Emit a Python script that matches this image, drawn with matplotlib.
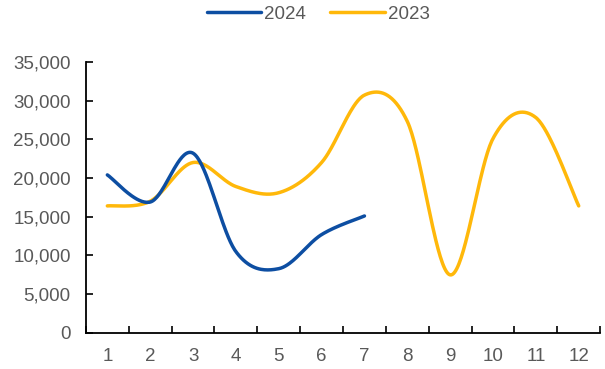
import numpy as np
import matplotlib.pyplot as plt

months = [1, 2, 3, 4, 5, 6, 7, 8, 9, 10, 11, 12]
sales_2024 = [20400, 16900, 23200, 10500, 8300, 12700, 15100]
sales_2023 = [16400, 17000, 22000, 18900, 18100, 22000, 30700, 27300, 7500, 25100, 27800, 16400]

BLUE = '#0D4EA2'
GOLD = '#FFB80A'
GREY = '#595959'

plt.rcParams['font.family'] = ['Liberation Sans', 'DejaVu Sans']


def smooth(xs, ys, sx, sy, n=40):
    """Catmull-Rom style smoothing (control points at 1/6), done in screen-like units."""
    p = np.column_stack([np.asarray(xs, float) * sx, np.asarray(ys, float) * sy])
    p = np.vstack([p[0], p, p[-1]])
    out = []
    t = np.linspace(0, 1, n)[:, None]
    for i in range(1, len(p) - 2):
        p0, p3 = p[i], p[i + 1]
        c1 = p0 + (p[i + 1] - p[i - 1]) / 6.0
        c2 = p3 - (p[i + 2] - p[i]) / 6.0
        seg = ((1 - t) ** 3) * p0 + 3 * ((1 - t) ** 2) * t * c1 + 3 * (1 - t) * t ** 2 * c2 + t ** 3 * p3
        out.append(seg if i == 1 else seg[1:])
    out = np.vstack(out)
    return out[:, 0] / sx, out[:, 1] / sy


fig = plt.figure(figsize=(6.05, 3.69), dpi=100)
ax = fig.add_axes([0.142, 0.0976, 0.850, 0.735])

# pixel scale of the axes, used so the smoothing behaves like it does on screen
sx = 42.8
sy = 271.0 / 35000

x24, y24 = smooth(months[:len(sales_2024)], sales_2024, sx, sy)
x23, y23 = smooth(months, sales_2023, sx, sy)
ax.plot(x24, y24, color=BLUE, lw=2.5, label='2024', solid_capstyle='round', zorder=3)
ax.plot(x23, y23, color=GOLD, lw=2.5, label='2023', solid_capstyle='round', zorder=2)

ax.set_xlim(0.5, 12.5)
ax.set_ylim(0, 35000)
ax.set_yticks(np.arange(0, 35001, 5000))
ax.set_yticklabels([f'{v:,}' for v in range(0, 35001, 5000)])
ax.set_xticks(months)
ax.set_xticks(np.arange(0.5, 12.6, 1), minor=True)

for side in ('top', 'right'):
    ax.spines[side].set_visible(False)
for side in ('left', 'bottom'):
    ax.spines[side].set_linewidth(1.3)
    ax.spines[side].set_color('black')

ax.tick_params(axis='x', which='major', length=0, pad=11, labelsize=13.5, labelcolor=GREY)
ax.tick_params(axis='x', which='minor', direction='in', length=5, width=1.2)
ax.tick_params(axis='y', direction='in', length=5, width=1.2, pad=11, labelsize=13.5, labelcolor=GREY)

fig.legend(loc='center', bbox_to_anchor=(0.526, 0.962), ncol=2, frameon=False,
           fontsize=13.5, labelcolor=GREY, handlelength=2.9, handletextpad=0.16,
           columnspacing=1.3, borderpad=0)

fig.savefig('out.png', dpi=100)
